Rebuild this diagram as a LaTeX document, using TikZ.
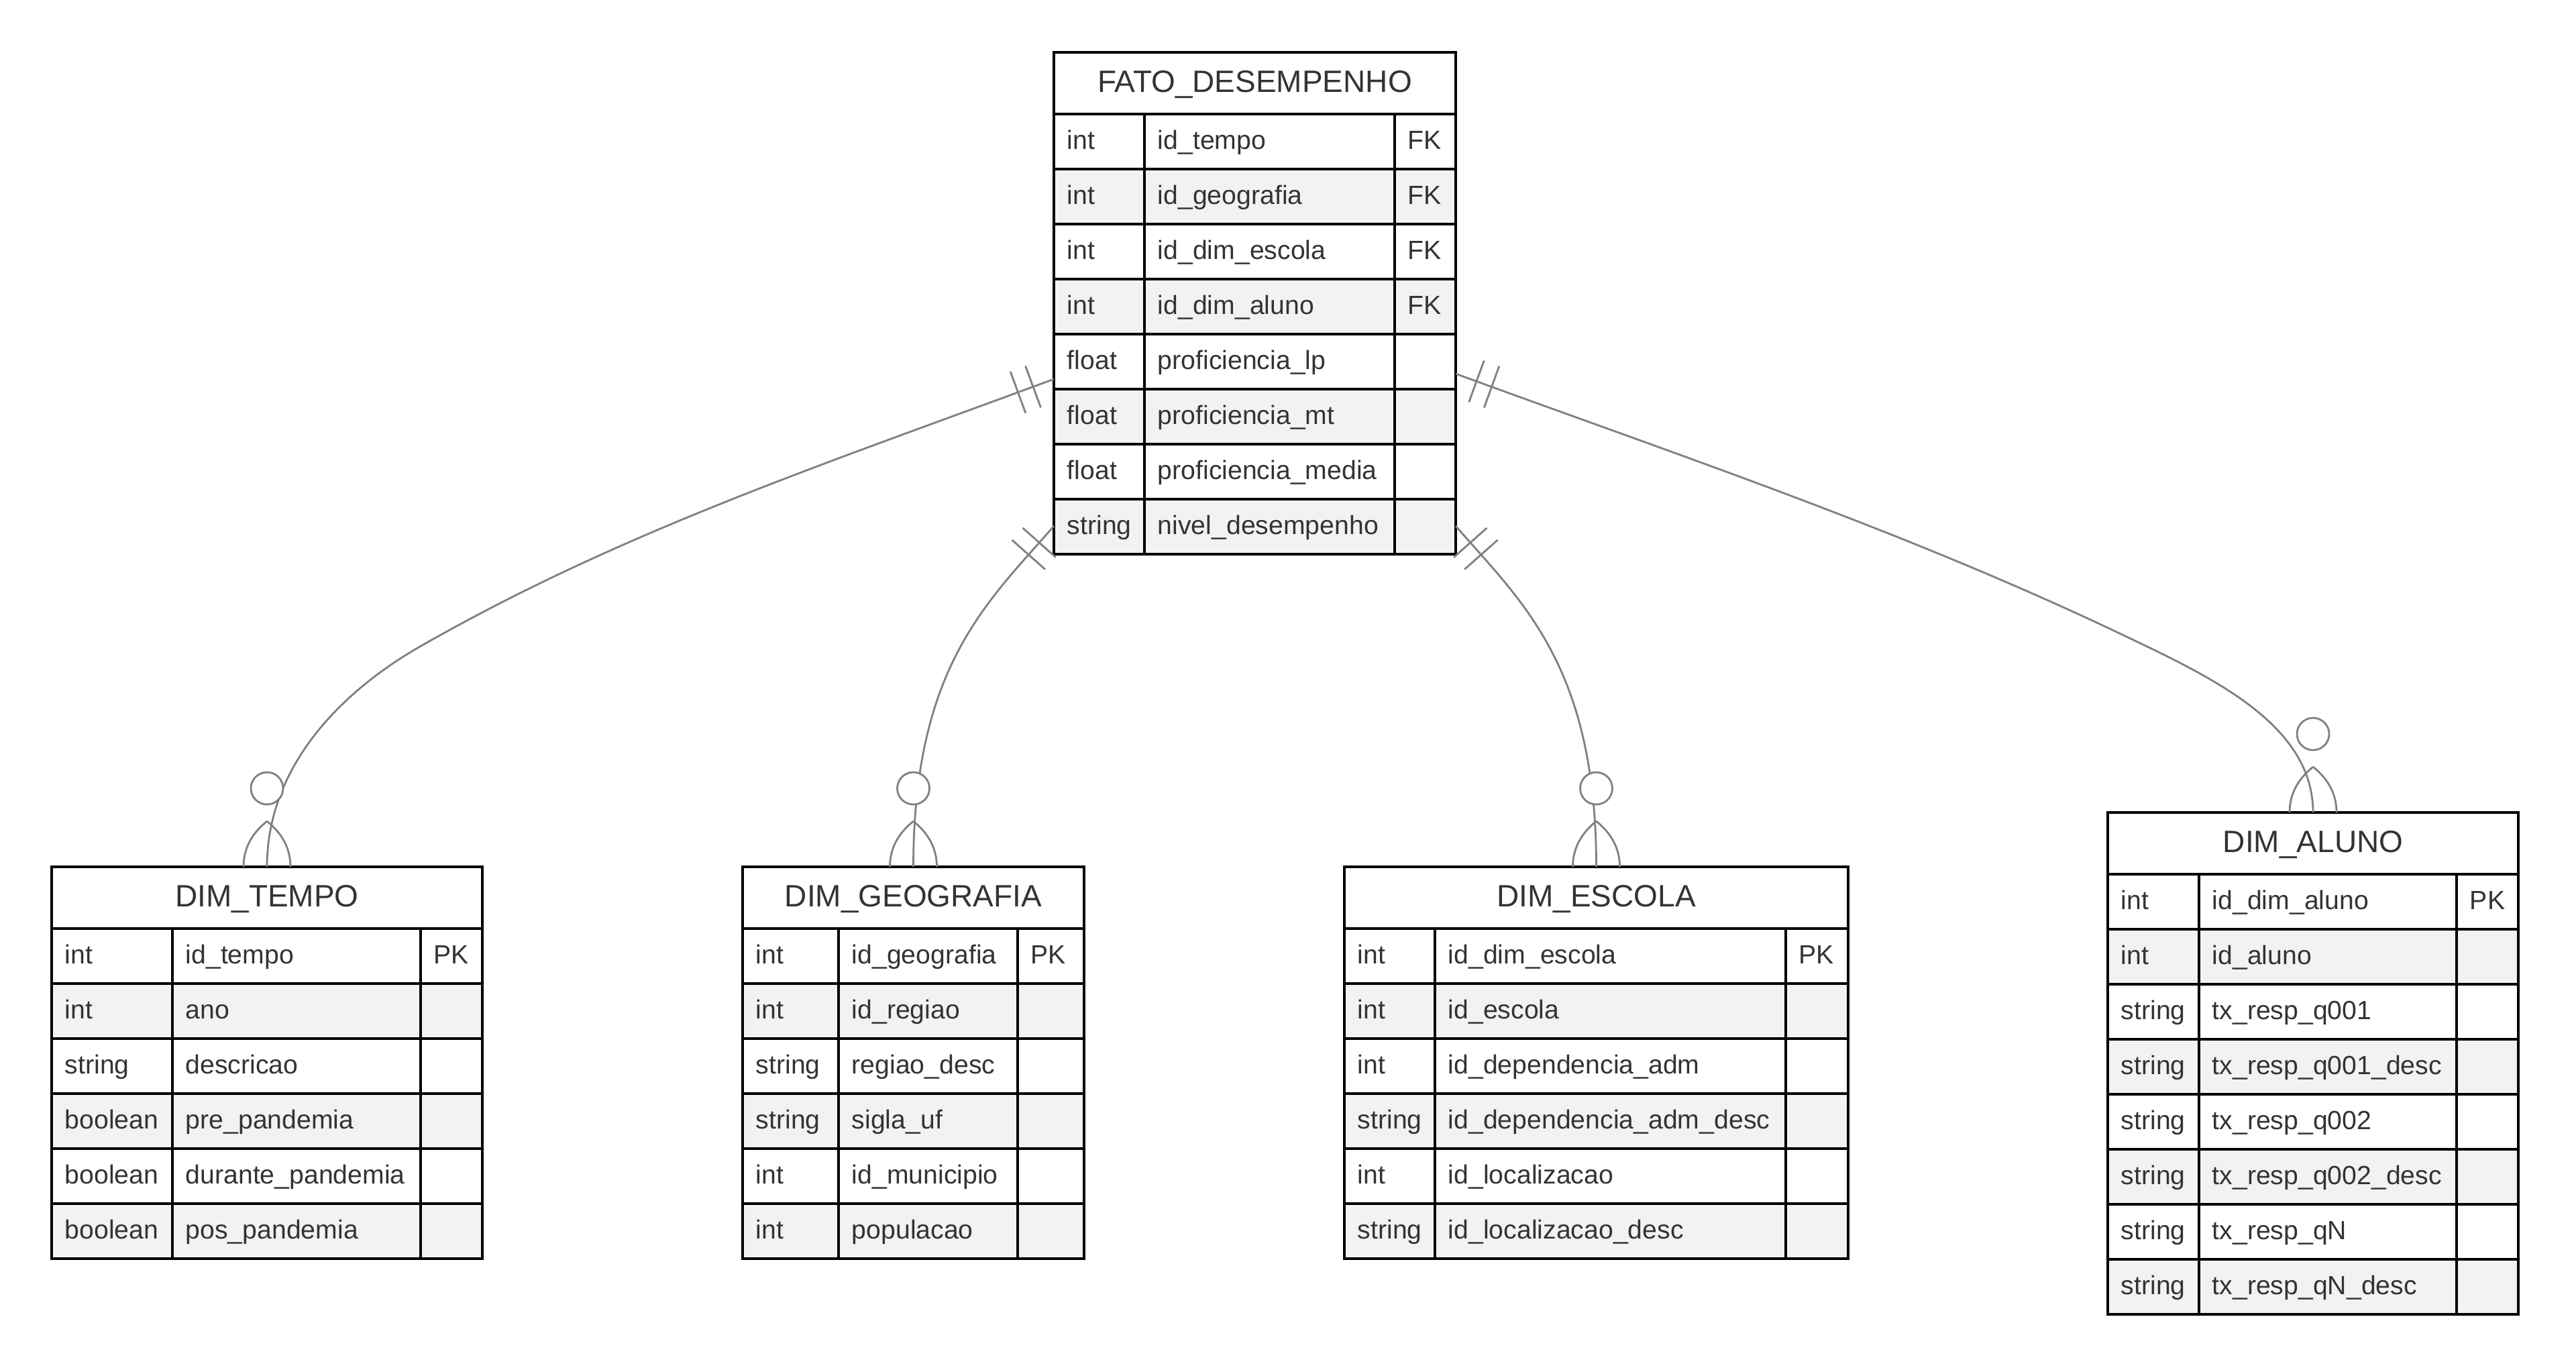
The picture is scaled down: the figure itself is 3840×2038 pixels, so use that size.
\documentclass[tikz,border=0pt]{standalone}
\usepackage{fontspec}
\setmainfont{Liberation Sans}
\usetikzlibrary{decorations.markings,calc}
\definecolor{inkgray}{HTML}{333333}
\definecolor{rowgray}{HTML}{F2F2F2}
\definecolor{relgray}{HTML}{808080}
\tikzset{
  tabline/.style={draw=black, line width=0.9pt},
  tabframe/.style={draw=black, line width=0.9pt, inner sep=0pt, outer sep=0pt, anchor=north west},
  celltext/.style={anchor=base west, inner sep=0pt, text=inkgray, font=\fontsize{9.8pt}{11pt}\selectfont},
  headtext/.style={anchor=base, inner sep=0pt, text=inkgray, font=\fontsize{11.5pt}{13pt}\selectfont},
  relline/.style={draw=relgray, line width=0.7pt},
  onlyone/.style={postaction={decorate}, decoration={markings,
     mark=at position 8.25pt with {\draw[relline] (0pt,-8.25pt) -- (0pt,8.25pt);},
     mark=at position 14.25pt with {\draw[relline] (0pt,-8.25pt) -- (0pt,8.25pt);}}},
}
% Entity table.
% #1 name, #2 left, #3 first divider, #4 second divider, #5 right,
% #6 top, #7 number of rows, #8 title, #9 rows as type/field/key
\newcommand\ertable[9]{%
  \foreach \ty/\fn/\ky [count=\i from 0] in {#9} {
    \pgfmathsetmacro\ya{#6+92+82*\i}
    \ifodd\i \fill[rowgray] (#2,\ya) rectangle (#5,\ya+82); \fi
    \node[celltext] (#1-type-\i) at (#2+19,\ya+52) {\ty};
    \node[celltext] (#1-field-\i) at (#3+19,\ya+52) {\fn};
    \node[celltext] (#1-key-\i) at (#4+19,\ya+52) {\ky};
    \draw[tabline] (#2,\ya) -- (#5,\ya);
  }
  \pgfmathsetmacro\ybot{#6+92+82*#7}
  \draw[tabline] (#3,#6+92) -- (#3,\ybot) (#4,#6+92) -- (#4,\ybot);
  \pgfmathsetmacro\fw{(#5-#2)*0.25}
  \pgfmathsetmacro\fh{(92+82*#7)*0.25}
  \node[tabframe, minimum width=\fw pt, minimum height=\fh pt] (#1) at (#2,#6) {};
  \node[headtext] (#1-title) at ({(#2+#5)/2},#6+59) {#8};
}
% Zero-or-more end: circle and crow's foot above a table's top edge
\newcommand\manyend[1]{%
  \begin{scope}[shift={(#1)}]
    \draw[relline] (0,-68) .. controls (-23.3,-49.3) and (-35,-26.7) .. (-35,0);
    \draw[relline] (0,-68) .. controls (23.3,-49.3) and (35,-26.7) .. (35,0);
    \draw[relline, fill=white] (0,-117) circle[radius=6pt];
  \end{scope}}
\begin{document}
\begin{tikzpicture}[x=0.25pt, y=-0.25pt]
\fill[white] (0,0) rectangle (3840,2038);
\useasboundingbox (0,0) rectangle (3840,2038);

\ertable{fato}{1571}{1706}{2079}{2170}{78}{8}{FATO\_DESEMPENHO}{int/id\_tempo/FK, int/id\_geografia/FK, int/id\_dim\_escola/FK, int/id\_dim\_aluno/FK, float/proficiencia\_lp/{}, float/proficiencia\_mt/{}, float/proficiencia\_media/{}, string/nivel\_desempenho/{}}

\ertable{tempo}{77}{257}{627}{719}{1292}{6}{DIM\_TEMPO}{int/id\_tempo/PK, int/ano/{}, string/descricao/{}, boolean/pre\_pandemia/{}, boolean/durante\_pandemia/{}, boolean/pos\_pandemia/{}}

\ertable{geo}{1107}{1250}{1517}{1616}{1292}{6}{DIM\_GEOGRAFIA}{int/id\_geografia/PK, int/id\_regiao/{}, string/regiao\_desc/{}, string/sigla\_uf/{}, int/id\_municipio/{}, int/populacao/{}}

\ertable{escola}{2004}{2139}{2662}{2755}{1292}{6}{DIM\_ESCOLA}{int/id\_dim\_escola/PK, int/id\_escola/{}, int/id\_dependencia\_adm/{}, string/id\_dependencia\_adm\_desc/{}, int/id\_localizacao/{}, string/id\_localizacao\_desc/{}}

\ertable{aluno}{3142}{3278}{3662}{3754}{1211}{8}{DIM\_ALUNO}{int/id\_dim\_aluno/PK, int/id\_aluno/{}, string/tx\_resp\_q001/{}, string/tx\_resp\_q001\_desc/{}, string/tx\_resp\_q002/{}, string/tx\_resp\_q002\_desc/{}, string/tx\_resp\_qN/{}, string/tx\_resp\_qN\_desc/{}}

% attachment points on the fact table
\coordinate (fatoL1) at ($(fato.north west)+(0,487)$);
\coordinate (fatoL2) at ($(fato.north west)+(0,706)$);
\coordinate (fatoR1) at ($(fato.north east)+(0,479)$);
\coordinate (fatoR2) at ($(fato.north east)+(0,706)$);
\coordinate (tmid) at (629,962);
\coordinate (amid) at (3170,949);

% relationships
\draw[relline, onlyone] (fatoL1) .. controls +(-340,126) and +(300,-171) .. (tmid)
  .. controls +(-120,68) and +(0,-150) .. (tempo.north);
\draw[relline, onlyone] (fatoL2) .. controls +(-97.5,112.5) and +(0,-300) .. (geo.north);
\draw[relline, onlyone] (fatoR2) .. controls +(97.5,112.5) and +(0,-300) .. (escola.north);
\draw[relline, onlyone] (fatoR1) .. controls +(330,121) and +(-330,-158) .. (amid)
  .. controls +(130,62) and +(0,-130) .. (aluno.north);

\manyend{tempo.north}
\manyend{geo.north}
\manyend{escola.north}
\manyend{aluno.north}
\end{tikzpicture}
\end{document}
